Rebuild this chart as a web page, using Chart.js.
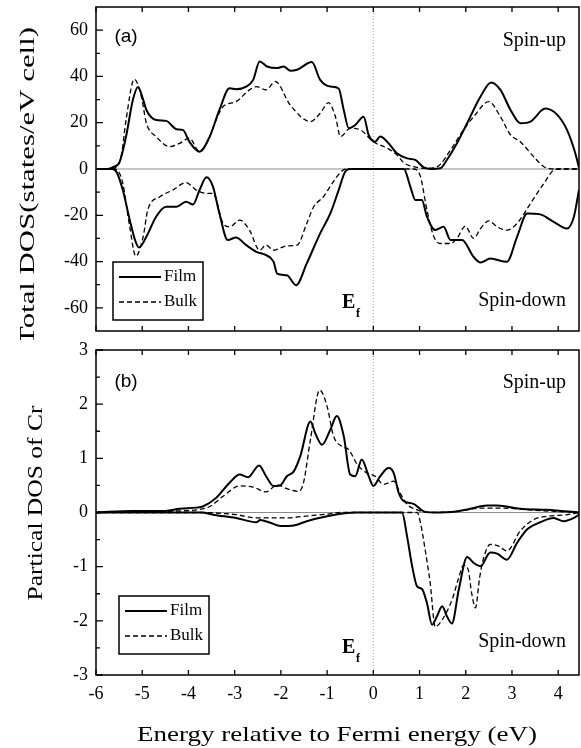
<!DOCTYPE html>
<html>
<head>
<meta charset="utf-8">
<script src="https://cdn.jsdelivr.net/npm/chart.js@4.4.0/dist/chart.umd.min.js"></script>
<style>
    body { margin: 0; background: #fff; }
    #wrap { position: relative; width: 581px; height: 748px; }
    #topBox { position: absolute; left: 0; top: 0; width: 581px; height: 340px; }
    #botBox { position: absolute; left: 0; top: 340px; width: 581px; height: 408px; }
</style>
</head>
<body>
<div id="wrap">
    <div id="topBox"><canvas id="dosTop"></canvas></div>
    <div id="botBox"><canvas id="dosBottom"></canvas></div>
</div>
<script>
// DOS of Cr film vs bulk - two stacked panels, shared energy axis

// energy axis
const xTickValues = [-6, -5, -4, -3, -2, -1, 0, 1, 2, 3, 4];

// panel (a) total DOS
const topMajorY = [-60, -40, -20, 0, 20, 40, 60];
const topMinorY = [-50, -30, -10, 10, 30, 50];

const filmUpTotal = [[-6,0],[-5.75,0],[-5.63,0.8],[-5.49,3],[-5.35,14],[-5.2,30],[-5.09,35.4],[-4.98,30],[-4.91,25.5],
    [-4.7,21.2],[-4.48,20.8],[-4.26,17.2],[-4.12,16.9],[-3.98,11.8],[-3.76,7.5],[-3.54,14],[-3.33,25.5],[-3.11,34.9],
    [-2.97,34.5],[-2.75,35.6],[-2.6,38.5],[-2.46,46.5],[-2.3,44.3],[-2.08,43.6],[-1.94,44.3],[-1.8,42.5],[-1.65,42.9],
    [-1.33,46.2],[-1.15,38.5],[-0.93,35.6],[-0.75,34.8],[-0.64,25.5],[-0.53,17.6],[-0.39,19],[-0.21,22.6],[-0.1,14.7],
    [0.04,11.8],[0.15,14],[0.3,11.8],[0.51,6.8],[0.73,4.6],[0.91,3.9],[1.09,0.7],[1.25,0],[1.45,0.3],[1.59,3.9],
    [1.81,11.1],[2.03,19.8],[2.32,31.3],[2.55,37.4],[2.75,34.2],[2.97,25.5],[3.18,19.8],[3.4,20.5],[3.72,26.1],
    [3.98,23.4],[4.19,16.9],[4.37,6.8],[4.45,0.5]];
const filmDownTotal = [[-6,0],[-5.65,0],[-5.55,-1.5],[-5.42,-9.1],[-5.27,-22],[-5.15,-31],[-5.07,-33.9],[-4.91,-29.3],
    [-4.7,-20.6],[-4.48,-16.3],[-4.26,-16.3],[-4.05,-14.1],[-3.9,-15.3],[-3.76,-9.1],[-3.61,-3.6],[-3.47,-7.6],
    [-3.33,-19.2],[-3.15,-30.7],[-2.97,-29.6],[-2.75,-32.9],[-2.53,-35.8],[-2.32,-37.2],[-2.16,-40],[-2.08,-45.2],
    [-1.87,-45.9],[-1.67,-50.2],[-1.44,-40.8],[-1.15,-27.8],[-0.93,-19.2],[-0.75,-9.1],[-0.61,-1.2],[-0.5,0],[0.66,0],
    [0.8,-7.6],[0.91,-13.4],[1.05,-13.4],[1.16,-20.6],[1.34,-26.4],[1.52,-25],[1.67,-30.7],[1.92,-30.7],[2.17,-38],
    [2.32,-40.4],[2.53,-38.7],[2.89,-40.1],[3.11,-29.3],[3.33,-19.2],[3.61,-19.6],[3.9,-22.8],[4.19,-25.7],
    [4.34,-20.6],[4.45,-9]];
const bulkUpTotal = [[-6,0],[-5.7,0],[-5.56,1],[-5.45,6],[-5.35,21.2],[-5.17,38.8],[-5.02,31.3],[-4.91,19.8],[-4.7,14],
    [-4.41,9.7],[-4.19,11.1],[-3.98,13.3],[-3.76,7.5],[-3.58,12],[-3.4,21.2],[-3.25,27],[-2.97,29.1],[-2.68,34.2],
    [-2.53,35.6],[-2.32,34.2],[-2.12,37.8],[-1.8,27.7],[-1.36,20.5],[-1.15,24.1],[-0.97,28.7],[-0.82,22.6],[-0.71,14],
    [-0.5,17.6],[-0.28,16.9],[0,11.8],[0.3,9],[0.51,6.1],[0.66,2.7],[0.87,1],[1.1,0.3],[1.38,1],[1.67,8.2],[1.95,16.9],
    [2.17,22.6],[2.5,29.1],[2.75,22.6],[2.97,14.7],[3.18,11.8],[3.47,5.3],[3.69,1],[3.9,0],[4.45,0]];
const bulkDownTotal = [[-6,0],[-5.6,0],[-5.5,-1.5],[-5.42,-6.2],[-5.27,-25],[-5.14,-37.7],[-4.98,-29.3],[-4.88,-17.7],
    [-4.62,-12],[-4.34,-9.1],[-4.05,-5.9],[-3.83,-9.1],[-3.61,-10.5],[-3.47,-10.5],[-3.25,-23.5],[-3.11,-25],
    [-2.89,-22.1],[-2.68,-26.4],[-2.46,-35.1],[-2.32,-32.9],[-2.16,-35.1],[-1.87,-33.2],[-1.65,-32.9],[-1.44,-23.5],
    [-1.29,-16.3],[-1.08,-12],[-0.89,-6.2],[-0.71,-1.5],[-0.6,0],[0.87,0],[1.02,-3.3],[1.16,-17.7],[1.31,-29.3],
    [1.45,-32.2],[1.67,-32.2],[1.81,-30],[1.99,-24.7],[2.17,-30],[2.32,-25.7],[2.5,-22.4],[2.68,-25],[2.89,-26.4],
    [3.11,-23.5],[3.4,-14.9],[3.69,-6.2],[3.9,-0.5],[4,0],[4.45,0]];

// panel (b) partial DOS of Cr
const bottomMajorY = [-3, -2, -1, 0, 1, 2, 3];
const bottomMinorY = [-2.5, -1.5, -0.5, 0.5, 1.5, 2.5];

const filmUpCr = [[-6,0],[-5.2,0.03],[-4.5,0.03],[-4.19,0.07],[-3.83,0.09],[-3.69,0.11],[-3.4,0.27],[-3.11,0.55],
    [-2.89,0.7],[-2.71,0.65],[-2.47,0.87],[-2.32,0.67],[-2.16,0.49],[-2.02,0.5],[-1.87,0.67],[-1.72,0.76],[-1.58,1.04],
    [-1.36,1.68],[-1.26,1.47],[-1.11,1.25],[-0.93,1.53],[-0.79,1.78],[-0.64,1.41],[-0.5,0.7],[-0.39,0.67],[-0.25,0.98],
    [-0.1,0.67],[0,0.49],[0.15,0.67],[0.33,0.82],[0.44,0.73],[0.55,0.36],[0.66,0.21],[0.87,0.16],[1.09,0.02],[1.3,0],
    [1.8,0.02],[2.1,0.07],[2.46,0.13],[2.68,0.13],[3.18,0.07],[3.76,0.05],[4.45,0]];
const filmDownCr = [[-6,0],[-3.7,0],[-3.47,-0.04],[-2.97,-0.1],[-2.53,-0.18],[-2.45,-0.14],[-2.23,-0.19],[-2.01,-0.25],
    [-1.72,-0.24],[-1.44,-0.16],[-1,-0.07],[-0.57,-0.01],[-0.4,0],[0.62,0],[0.73,-0.44],[0.84,-0.99],[0.95,-1.37],
    [1.05,-1.41],[1.16,-1.67],[1.27,-2.07],[1.38,-1.91],[1.49,-1.73],[1.59,-1.91],[1.7,-2.05],[1.85,-1.42],[2.03,-0.82],
    [2.17,-0.93],[2.32,-0.99],[2.53,-0.74],[2.68,-0.76],[2.89,-0.87],[3.11,-0.56],[3.33,-0.31],[3.61,-0.18],
    [3.9,-0.1],[4.12,-0.16],[4.34,-0.1],[4.45,-0.04]];
const bulkUpCr = [[-6,0],[-5,0.01],[-4.2,0.03],[-3.8,0.05],[-3.54,0.11],[-3.25,0.3],[-2.89,0.49],[-2.6,0.47],
    [-2.32,0.38],[-2.08,0.51],[-1.87,0.44],[-1.62,0.39],[-1.51,0.55],[-1.36,1.35],[-1.16,2.26],[-1,1.96],[-0.86,1.41],
    [-0.68,1.22],[-0.53,1.16],[-0.35,0.89],[-0.14,0.73],[0.04,0.67],[0.22,0.52],[0.44,0.58],[0.58,0.36],[0.73,0.15],
    [0.95,0.05],[1.2,0],[1.8,0.02],[2.32,0.08],[2.8,0.08],[3.5,0.04],[4.45,0]];
const bulkDownCr = [[-6,0],[-3.8,0],[-2.97,-0.04],[-2.53,-0.1],[-1.87,-0.1],[-1.51,-0.07],[-1,-0.03],[-0.7,0],[0.95,0],
    [1.02,-0.19],[1.12,-0.68],[1.23,-1.3],[1.34,-2.11],[1.49,-1.98],[1.7,-1.62],[1.85,-1.2],[1.95,-0.97],[2.05,-1.05],
    [2.13,-1.5],[2.21,-1.76],[2.3,-1.2],[2.4,-0.8],[2.53,-0.59],[2.71,-0.62],[2.89,-0.71],[3.18,-0.34],[3.47,-0.13],
    [3.76,-0.07],[4.2,-0.04],[4.45,0]];

const SERIF = '"Liberation Serif", "Times New Roman", serif';
const SANS = '"Liberation Sans", Arial, sans-serif';

function toPoints(pairs) {
    return pairs.map(p => ({ x: p[0], y: p[1] }));
}

function lineSet(label, pairs, dashed) {
    return {
        label: label,
        data: toPoints(pairs),
        borderColor: '#000',
        borderWidth: dashed ? 1.3 : 2,
        borderDash: dashed ? [5, 3] : [],
        pointRadius: 0,
        fill: false,
        cubicInterpolationMode: 'monotone'
    };
}

// text squeezed/stretched to a given width (the original figure is not uniformly scaled)
function fitText(ctx, text, x, y, width, align) {
    const w = ctx.measureText(text).width;
    const k = width / w;
    ctx.save();
    ctx.translate(x, y);
    ctx.scale(k, 1);
    ctx.textAlign = align || 'center';
    ctx.fillText(text, 0, 0);
    ctx.restore();
}

const panelDeco = {
    id: 'panelDeco',
    beforeDatasetsDraw(chart, args, opts) {
        const ctx = chart.ctx;
        const area = chart.chartArea;
        const xs = chart.scales.x;
        const ys = chart.scales.y;
        ctx.save();
        // zero line
        ctx.strokeStyle = '#8c8c8c';
        ctx.lineWidth = 1.2;
        ctx.beginPath();
        ctx.moveTo(area.left, ys.getPixelForValue(0));
        ctx.lineTo(area.right, ys.getPixelForValue(0));
        ctx.stroke();
        // Fermi level
        ctx.strokeStyle = '#888';
        ctx.lineWidth = 0.8;
        ctx.setLineDash([1, 2]);
        ctx.beginPath();
        ctx.moveTo(xs.getPixelForValue(0), area.top);
        ctx.lineTo(xs.getPixelForValue(0), area.bottom);
        ctx.stroke();
        ctx.restore();
    },
    afterDatasetsDraw(chart, args, opts) {
        const ctx = chart.ctx;
        const area = chart.chartArea;
        const xs = chart.scales.x;
        const ys = chart.scales.y;
        ctx.save();
        ctx.strokeStyle = '#000';
        ctx.fillStyle = '#000';
        ctx.lineWidth = 1.5;
        ctx.strokeRect(area.left, area.top, area.right - area.left, area.bottom - area.top);

        // inward ticks
        ctx.lineWidth = 1.3;
        ctx.beginPath();
        xTickValues.forEach(v => {
            const px = xs.getPixelForValue(v);
            ctx.moveTo(px, area.top);
            ctx.lineTo(px, area.top + 5);
            ctx.moveTo(px, area.bottom);
            ctx.lineTo(px, area.bottom - 5);
        });
        opts.majorY.forEach(v => {
            const py = ys.getPixelForValue(v);
            ctx.moveTo(area.left, py);
            ctx.lineTo(area.left + 7, py);
        });
        opts.minorY.forEach(v => {
            const py = ys.getPixelForValue(v);
            ctx.moveTo(area.left, py);
            ctx.lineTo(area.left + 4, py);
        });
        ctx.stroke();

        // panel tag
        ctx.font = '19px ' + SANS;
        ctx.textBaseline = 'middle';
        ctx.textAlign = 'center';
        ctx.fillText(opts.tag, 126, opts.tagY);

        // spin labels
        ctx.font = '20px ' + SERIF;
        ctx.textBaseline = 'alphabetic';
        ctx.textAlign = 'right';
        ctx.fillText('Spin-up', 566, opts.upY);
        ctx.fillText('Spin-down', 566, opts.downY);

        // Fermi level label
        ctx.textAlign = 'left';
        ctx.font = 'bold 20px ' + SERIF;
        ctx.fillText('E', 342, opts.efY);
        ctx.font = 'bold 12px ' + SERIF;
        ctx.fillText('f', 356, opts.efY + 9);

        // legend box
        const bl = opts.legendX;
        const bt = opts.legendY;
        ctx.lineWidth = 1.5;
        ctx.strokeRect(bl, bt, 90, 58);
        ctx.lineWidth = 2;
        ctx.beginPath();
        ctx.moveTo(bl + 6, bt + 15);
        ctx.lineTo(bl + 48, bt + 15);
        ctx.stroke();
        ctx.lineWidth = 1.3;
        ctx.setLineDash([5, 3]);
        ctx.beginPath();
        ctx.moveTo(bl + 6, bt + 40);
        ctx.lineTo(bl + 48, bt + 40);
        ctx.stroke();
        ctx.setLineDash([]);
        ctx.font = '17px ' + SERIF;
        ctx.textBaseline = 'middle';
        ctx.fillText('Film', bl + 51, bt + 15);
        ctx.fillText('Bulk', bl + 51, bt + 40);

        // y axis title, rotated
        ctx.font = '20px ' + SERIF;
        ctx.save();
        ctx.translate(opts.titleX, opts.titleY);
        ctx.rotate(-Math.PI / 2);
        fitText(ctx, opts.title, 0, 0, opts.titleLen, 'center');
        ctx.restore();

        // x axis title (bottom panel only)
        if (opts.xTitle) {
            ctx.font = '21px ' + SERIF;
            ctx.textBaseline = 'alphabetic';
            fitText(ctx, opts.xTitle, 337, opts.xTitleY, 400, 'center');
        }
        ctx.restore();
    }
};

function makePanel(canvasId, datasets, yMin, yMax, majorY, showX, pad, deco) {
    const ctx = document.getElementById(canvasId).getContext('2d');
    return new Chart(ctx, {
        type: 'line',
        data: { datasets: datasets },
        plugins: [panelDeco],
        options: {
            responsive: true,
            maintainAspectRatio: false,
            animation: false,
            layout: { padding: pad },
            plugins: {
                legend: { display: false },
                tooltip: { enabled: false },
                panelDeco: deco
            },
            scales: {
                x: {
                    type: 'linear',
                    min: -6,
                    max: 4.45,
                    display: showX,
                    grid: { display: false, drawTicks: false },
                    border: { display: false },
                    ticks: {
                        color: '#000',
                        font: { family: SERIF, size: 18 },
                        padding: 8,
                        maxRotation: 0,
                        autoSkip: false,
                        callback: v => String(v)
                    },
                    afterBuildTicks: s => { s.ticks = xTickValues.map(v => ({ value: v })); },
                    afterFit: s => { s.height = showX ? 73 : 0; s.paddingLeft = 0; s.paddingRight = 0; }
                },
                y: {
                    min: yMin,
                    max: yMax,
                    grid: { display: false, drawTicks: false },
                    border: { display: false },
                    ticks: {
                        color: '#000',
                        font: { family: SERIF, size: 18 },
                        padding: 8,
                        callback: v => String(v)
                    },
                    afterBuildTicks: s => { s.ticks = majorY.map(v => ({ value: v })); },
                    afterFit: s => { s.width = 96; s.paddingTop = 0; s.paddingBottom = 0; }
                }
            }
        }
    });
}

const topChart = makePanel('dosTop', [
    lineSet('Film', filmUpTotal, false),
    lineSet('Film', filmDownTotal, false),
    lineSet('Bulk', bulkUpTotal, true),
    lineSet('Bulk', bulkDownTotal, true)
], -70, 70, topMajorY, false, { top: 7, right: 2, bottom: 9, left: 0 }, {
    majorY: topMajorY, minorY: topMinorY,
    tag: '(a)', tagY: 37, upY: 46, downY: 306, efY: 308,
    legendX: 113, legendY: 262,
    title: 'Total DOS(states/eV cell)', titleX: 29, titleY: 186, titleLen: 318
});

const bottomChart = makePanel('dosBottom', [
    lineSet('Film', filmUpCr, false),
    lineSet('Film', filmDownCr, false),
    lineSet('Bulk', bulkUpCr, true),
    lineSet('Bulk', bulkDownCr, true)
], -3, 3, bottomMajorY, true, { top: 10, right: 2, bottom: 0, left: 0 }, {
    majorY: bottomMajorY, minorY: bottomMinorY,
    tag: '(b)', tagY: 42, upY: 48, downY: 307, efY: 313,
    legendX: 119, legendY: 256,
    title: 'Partical DOS of Cr', titleX: 37, titleY: 163, titleLen: 195,
    xTitle: 'Energy relative to Fermi energy (eV)', xTitleY: 401
});
</script>
</body>
</html>
